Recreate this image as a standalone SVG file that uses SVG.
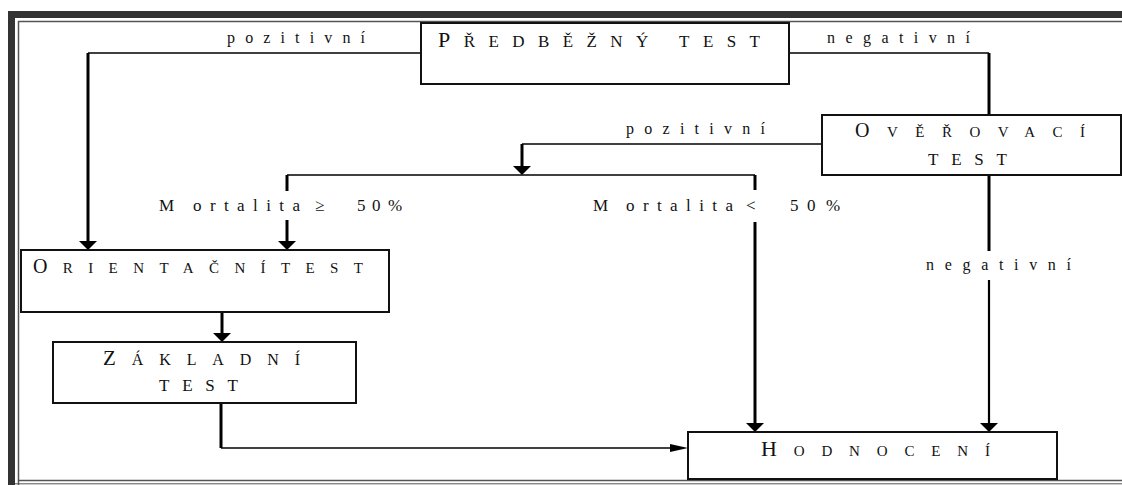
<svg xmlns="http://www.w3.org/2000/svg" width="1122" height="485" viewBox="0 0 1122 485">
<style>
.box{fill:#fff;stroke:#111;stroke-width:2}
.t{font-family:"Liberation Serif","Times New Roman",serif;fill:#111}
.lbl{font-family:"Liberation Serif","Times New Roman",serif;font-size:16px;fill:#111}
.thin{fill:none;stroke:#000;stroke-width:1.5}
.thick{fill:none;stroke:#000;stroke-width:3}
.ah{fill:#000}
</style>
<rect x="0" y="0" width="1122" height="485" fill="#fff"/>
<g id="frame">
<rect x="8" y="11" width="1114" height="7" fill="#333"/>
<rect x="8" y="11" width="7" height="474" fill="#333"/>
<path d="M18.5,485 V21.5 H1122" fill="none" stroke="#555" stroke-width="1.5"/>
<line x1="18" y1="480.5" x2="1122" y2="480.5" stroke="#555" stroke-width="1.5"/>
<line x1="15" y1="483.8" x2="1122" y2="483.8" stroke="#555" stroke-width="1"/>
</g>
<g id="connectors">
<path class="thin" d="M421,53 H88"/>
<path class="thick" d="M88,53 V241"/>
<polygon class="ah" points="79,241 97,241 88,250"/>
<path class="thin" d="M789,53 H989"/>
<path class="thick" d="M989,53 V115"/>
<path class="thin" d="M822,144 H522"/>
<path class="thick" d="M522,144 V166"/>
<polygon class="ah" points="513,166 531,166 522,175"/>
<path class="thin" d="M287,175 H755"/>
<path class="thick" d="M287,175 V191"/>
<path class="thick" d="M287,220 V241"/>
<polygon class="ah" points="278,241 296,241 287,250"/>
<path class="thick" d="M755,175 V190"/>
<path class="thick" d="M755,222 V423"/>
<polygon class="ah" points="746,423 764,423 755,432"/>
<path class="thick" d="M989,175 V251"/>
<path class="thin" d="M989,280 V423" style="stroke-width:2.2"/>
<polygon class="ah" points="980,423 998,423 989,432"/>
<path class="thick" d="M222,312 V333"/>
<polygon class="ah" points="213,333 231,333 222,342"/>
<path class="thick" d="M221,403 V448"/>
<path class="thin" d="M221,448 H672"/>
<polygon class="ah" points="670,444 688,448 670,452"/>
<text class="lbl" x="227" y="43" textLength="138" lengthAdjust="spacing">pozitivní</text>
<text class="lbl" x="827" y="43" textLength="143" lengthAdjust="spacing">negativní</text>
<text class="lbl" x="626" y="134" textLength="139" lengthAdjust="spacing">pozitivní</text>
<text class="lbl" x="926" y="270" textLength="145" lengthAdjust="spacing">negativní</text>
<text class="t" y="211" style="font-size:17px"><tspan x="159">M</tspan><tspan x="193" textLength="107" lengthAdjust="spacing">ortalita</tspan><tspan x="315">≥</tspan><tspan x="357">5</tspan><tspan x="372">0</tspan><tspan x="388">%</tspan></text>
<text class="t" y="211" style="font-size:17px"><tspan x="593">M</tspan><tspan x="626" textLength="107" lengthAdjust="spacing">ortalita</tspan><tspan x="746">&lt;</tspan><tspan x="790">5</tspan><tspan x="807">0</tspan><tspan x="826">%</tspan></text>
</g>
<g id="predbezny">
<rect class="box" x="421" y="23" width="368" height="61"/>
<text class="t" x="438" y="47" textLength="322" lengthAdjust="spacing"><tspan style="font-size:22px">P</tspan><tspan style="font-size:17px">ŘEDBĚŽNÝ TEST</tspan></text>
</g>
<g id="overovaci">
<rect class="box" x="822" y="115" width="299" height="60"/>
<text class="t" x="855" y="137" textLength="230" lengthAdjust="spacing"><tspan style="font-size:20px">O</tspan><tspan style="font-size:15px">VĚŘOVACÍ</tspan></text>
<text class="t" x="928" y="165" textLength="79" lengthAdjust="spacing" style="font-size:17px">TEST</text>
</g>
<g id="orientacni">
<rect class="box" x="21" y="250" width="368" height="62"/>
<text class="t" x="33" y="273" textLength="330" lengthAdjust="spacing"><tspan style="font-size:20px">O</tspan><tspan style="font-size:15px">RIENTAČNÍTEST</tspan></text>
</g>
<g id="zakladni">
<rect class="box" x="53" y="342" width="303" height="61"/>
<text class="t" x="103" y="365" textLength="197" lengthAdjust="spacing"><tspan style="font-size:21px">Z</tspan><tspan style="font-size:16px">ÁKLADNÍ</tspan></text>
<text class="t" x="159" y="391" textLength="79" lengthAdjust="spacing" style="font-size:17px">TEST</text>
</g>
<g id="hodnoceni">
<rect class="box" x="688" y="432" width="369" height="47"/>
<text class="t" x="761" y="456" textLength="229" lengthAdjust="spacing"><tspan style="font-size:22px">H</tspan><tspan style="font-size:15px">ODNOCENÍ</tspan></text>
</g>
</svg>
